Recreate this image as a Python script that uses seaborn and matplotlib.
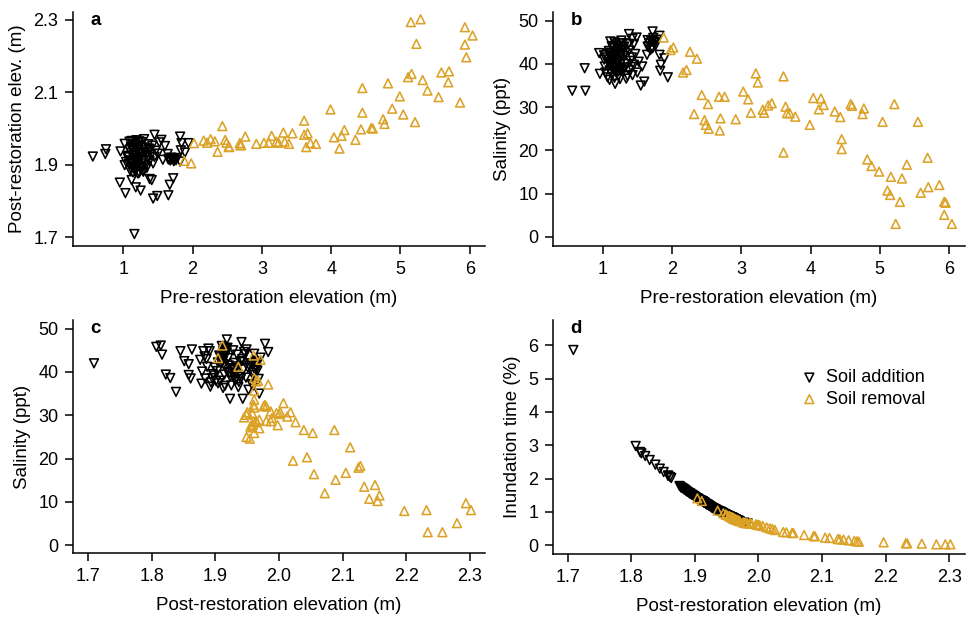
import matplotlib
matplotlib.use("Agg")
import matplotlib.pyplot as plt
import numpy as np
import pandas as pd
import seaborn as sns

# soil addition sites (black, down triangles)
pre_add = [1.16, 1.43, 1.49, 1.65, 1.03, 1.25, 1.18, 1.67, 0.95, 1.12, 1.41, 1.38, 1.72,
           0.56, 0.75, 0.74, 0.96, 1.02, 1.45, 1.23, 1.55, 1.60, 1.82, 1.84, 1.94, 1.89,
           1.82, 1.72, 1.65, 1.57, 1.43, 1.29, 1.26, 1.10, 1.38, 1.83, 1.64,
           1.06, 1.08, 1.09, 1.10, 1.11, 1.12, 1.13, 1.13, 1.14, 1.15, 1.15, 1.16, 1.17,
           1.17, 1.18, 1.19, 1.19, 1.20, 1.20, 1.21, 1.22, 1.22, 1.23, 1.24, 1.24, 1.25,
           1.26, 1.27, 1.28, 1.29, 1.30, 1.31, 1.32, 1.33, 1.35, 1.36, 1.38, 1.40, 1.42,
           1.45, 1.47, 1.50, 1.52, 1.07, 1.11, 1.16, 1.21, 1.26, 1.14, 1.18, 1.23, 1.04,
           1.02, 1.09, 1.27, 1.34, 1.37, 1.12, 1.19, 1.30,
           1.66, 1.68, 1.70, 1.72, 1.74, 1.76, 1.78, 1.69, 1.73]
post_add = [1.709, 1.807, 1.814, 1.816, 1.822, 1.829, 1.838, 1.845, 1.851, 1.858, 1.858, 1.861, 1.863,
            1.923, 1.943, 1.930, 1.937, 1.958, 1.983, 1.965, 1.969, 1.952, 1.978, 1.960, 1.960, 1.934,
            1.909, 1.918, 1.915, 1.914, 1.904, 1.881, 1.895, 1.912, 1.941, 1.940, 1.930,
            1.921, 1.903, 1.942, 1.884, 1.933, 1.912, 1.947, 1.893, 1.926, 1.906, 1.938, 1.887, 1.928,
            1.915, 1.955, 1.896, 1.918, 1.944, 1.901, 1.876, 1.932, 1.909, 1.951, 1.891, 1.923, 1.936,
            1.904, 1.929, 1.883, 1.948, 1.913, 1.934, 1.898, 1.941, 1.919, 1.957, 1.911, 1.927, 1.953,
            1.922, 1.939, 1.931, 1.962, 1.925, 1.949, 1.959, 1.961, 1.963, 1.879, 1.886, 1.878, 1.908,
            1.899, 1.964, 1.889, 1.892, 1.945, 1.966, 1.968, 1.971,
            1.915, 1.912, 1.918, 1.914, 1.916, 1.913, 1.919, 1.920, 1.910]
sal_add = [42.0, 45.8, 46.1, 44.0, 39.4, 38.6, 35.4, 44.8, 42.5, 41.8, 39.3, 38.5, 45.2,
           33.8, 33.8, 39.0, 37.7, 42.0, 44.6, 40.8, 35.0, 35.9, 46.5, 39.8, 36.9, 41.3,
           42.1, 47.5, 45.5, 39.4, 37.4, 44.8, 38.6, 36.3, 46.9, 38.4, 42.1,
           41.5, 40.2, 43.0, 38.5, 39.8, 42.6, 44.1, 37.6, 40.9, 43.8, 38.9, 41.2, 45.0,
           36.8, 42.0, 39.5, 44.5, 40.6, 37.9, 42.8, 38.2, 43.4, 41.0, 44.8, 39.0, 36.5,
           42.2, 40.4, 43.6, 38.7, 41.8, 44.0, 39.2, 42.5, 40.0, 37.2, 43.1, 40.7, 41.5,
           39.8, 42.3, 38.0, 40.5, 36.9, 45.2, 39.3, 44.2, 41.4, 40.1, 43.0, 37.3, 38.0,
           41.0, 42.4, 45.4, 36.6, 44.6, 40.3, 38.4, 43.3,
           44.0, 44.8, 45.3, 43.6, 45.0, 44.2, 45.6, 43.2, 46.0]
inund_add = [5.86, 2.98, 2.80, 2.76, 2.68, 2.56, 2.42, 2.30, 2.20, 2.09, 2.09, 2.05, 2.02,
             1.18, 0.98, 1.10, 1.03, 0.84, 0.66, 0.77, 0.74, 0.89, 0.68, 0.82, 0.82, 1.06,
             1.35, 1.24, 1.28, 1.29, 1.41, 1.71, 1.52, 1.32, 1.00, 1.01, 1.10,
             1.21, 1.42, 0.99, 1.67, 1.07, 1.32, 0.94, 1.55, 1.14, 1.39, 1.02, 1.62, 1.12,
             1.28, 0.87, 1.51, 1.24, 0.97, 1.45, 1.78, 1.08, 1.35, 0.90, 1.57, 1.18, 1.04,
             1.41, 1.11, 1.68, 0.93, 1.31, 1.06, 1.49, 1.00, 1.23, 0.85, 1.33, 1.13, 0.88,
             1.20, 1.01, 1.09, 0.80, 1.16, 0.92, 0.83, 0.81, 0.79, 1.73, 1.64, 1.74, 1.36,
             1.47, 0.78, 1.60, 1.56, 0.96, 0.76, 0.75, 0.72,
             1.28, 1.32, 1.24, 1.29, 1.27, 1.31, 1.23, 1.22, 1.34]

# soil removal sites (orange, up triangles)
pre_rem = [1.88, 1.98, 2.02, 2.16, 2.21, 2.26, 2.32, 2.36, 2.43, 2.47, 2.49, 2.52, 2.53,
           2.68, 2.69, 2.70, 2.76, 2.92, 3.03, 3.10, 3.14, 3.21, 3.24, 3.31, 3.33, 3.39,
           3.44, 3.61, 3.61, 3.64, 3.66, 3.70, 3.78, 3.99, 4.04, 4.12, 4.15, 4.19, 4.35,
           4.43, 4.45, 4.45, 4.58, 4.60, 4.75, 4.77, 4.82, 4.88, 4.99, 5.04, 5.11, 5.16,
           5.15, 5.21, 5.23, 5.29, 5.32, 5.39, 5.55, 5.59, 5.70, 5.69, 5.86, 5.93, 5.93,
           5.95, 6.04]
post_rem = [1.911, 1.904, 1.960, 1.967, 1.961, 1.971, 1.965, 1.936, 2.007, 1.969, 1.961, 1.950, 1.949,
            1.960, 1.954, 1.955, 1.978, 1.958, 1.961, 1.961, 1.980, 1.964, 1.961, 1.989, 1.964, 1.958,
            1.987, 2.022, 1.983, 1.949, 1.987, 1.960, 1.958, 2.053, 1.976, 1.945, 1.980, 1.996, 1.969,
            1.998, 2.112, 2.044, 2.002, 2.000, 2.026, 2.013, 2.125, 2.055, 2.089, 2.039, 2.142, 2.151,
            2.294, 2.018, 2.234, 2.302, 2.134, 2.105, 2.087, 2.155, 2.158, 2.128, 2.072, 2.280, 2.232,
            2.197, 2.257]
sal_rem = [46.1, 43.2, 43.8, 38.0, 38.6, 42.8, 28.4, 41.2, 32.8, 27.0, 25.9, 30.7, 25.0,
           32.4, 24.6, 27.4, 32.4, 27.2, 33.6, 31.8, 28.7, 37.8, 35.7, 29.4, 28.7, 30.4,
           30.9, 19.5, 37.1, 30.1, 28.6, 28.6, 27.8, 25.9, 32.1, 29.5, 32.0, 30.5, 29.0,
           27.7, 22.6, 20.3, 30.7, 30.3, 28.4, 29.7, 17.9, 16.4, 15.1, 26.6, 10.7, 13.9,
           9.7, 30.7, 3.0, 8.1, 13.5, 16.7, 26.6, 10.2, 11.5, 18.3, 12.0, 5.1, 8.1,
           7.9, 3.0]
inund_rem = [1.33, 1.41, 0.82, 0.76, 0.81, 0.72, 0.77, 1.04, 0.58, 0.74, 0.81, 0.91, 0.92,
             0.82, 0.88, 0.87, 0.68, 0.84, 0.81, 0.81, 0.67, 0.78, 0.81, 0.65, 0.78, 0.84,
             0.66, 0.49, 0.66, 0.92, 0.66, 0.82, 0.84, 0.37, 0.69, 0.96, 0.67, 0.63, 0.74,
             0.62, 0.22, 0.39, 0.60, 0.61, 0.46, 0.54, 0.19, 0.37, 0.27, 0.40, 0.15, 0.13,
             0.03, 0.51, 0.06, 0.03, 0.17, 0.23, 0.28, 0.12, 0.11, 0.18, 0.31, 0.03, 0.06,
             0.09, 0.05]

add = pd.DataFrame({"pre": pre_add, "post": post_add, "sal": sal_add, "inund": inund_add})
rem = pd.DataFrame({"pre": pre_rem, "post": post_rem, "sal": sal_rem, "inund": inund_rem})

black = "#000000"
orange = "#DCA227"

sns.set_theme(style="ticks")
plt.rcParams["font.family"] = ["Liberation Sans", "DejaVu Sans"]
plt.rcParams["font.size"] = 13
plt.rcParams["text.color"] = "black"
plt.rcParams["axes.labelcolor"] = "black"
plt.rcParams["axes.edgecolor"] = "black"
plt.rcParams["xtick.color"] = "black"
plt.rcParams["ytick.color"] = "black"
plt.rcParams["axes.linewidth"] = 1.1
plt.rcParams["xtick.major.size"] = 5.5
plt.rcParams["ytick.major.size"] = 5.5
plt.rcParams["xtick.major.width"] = 1.1
plt.rcParams["ytick.major.width"] = 1.1

fig = plt.figure(figsize=(9.72, 6.19), dpi=100)
W, H = 972, 619


def make_ax(left, top, right, bottom):
    return fig.add_axes([left / W, 1 - bottom / H, (right - left) / W, (bottom - top) / H])


ax_a = make_ax(73, 12, 485, 246)
ax_b = make_ax(553, 12, 965, 246)
ax_c = make_ax(73, 320, 485, 553)
ax_d = make_ax(553, 320, 965, 554)

panels = [
    (ax_a, "pre", "post", "Pre-restoration elevation (m)", "Post-restoration elev. (m)", "a"),
    (ax_b, "pre", "sal", "Pre-restoration elevation (m)", "Salinity (ppt)", "b"),
    (ax_c, "post", "sal", "Post-restoration elevation (m)", "Salinity (ppt)", "c"),
    (ax_d, "post", "inund", "Post-restoration elevation (m)", "Inundation time (%)", "d"),
]

for ax, xcol, ycol, xlabel, ylabel, letter in panels:
    sns.scatterplot(data=add, x=xcol, y=ycol, ax=ax, marker="v", s=40,
                    facecolor="none", edgecolor=black, linewidth=1.15, label="Soil addition")
    sns.scatterplot(data=rem, x=xcol, y=ycol, ax=ax, marker="^", s=40,
                    facecolor="none", edgecolor=orange, linewidth=1.15, label="Soil removal")
    ax.set_xlabel(xlabel, fontsize=13.5, labelpad=9)
    ax.set_ylabel(ylabel, fontsize=13.5, labelpad=5)
    ax.tick_params(labelsize=13, direction="out", pad=5)
    ax.text(0.043, 0.965, letter, transform=ax.transAxes, fontsize=13.5,
            fontweight="bold", ha="left", va="center")
    sns.despine(ax=ax)
    if ax is not ax_d:
        ax.get_legend().remove()

ax_a.set_xlim(0.274, 6.22)
ax_a.set_ylim(1.676, 2.322)
ax_a.set_xticks([1, 2, 3, 4, 5, 6])
ax_a.set_yticks([1.7, 1.9, 2.1, 2.3])
ax_a.set_yticklabels(["1.7", "1.9", "2.1", "2.3"])

ax_b.set_xlim(0.283, 6.23)
ax_b.set_ylim(-2.1, 52)
ax_b.set_xticks([1, 2, 3, 4, 5, 6])
ax_b.set_yticks([0, 10, 20, 30, 40, 50])

elev_ticks = [1.7, 1.8, 1.9, 2.0, 2.1, 2.2, 2.3]
elev_labels = ["1.7", "1.8", "1.9", "2.0", "2.1", "2.2", "2.3"]
ax_c.set_xlim(1.676, 2.324)
ax_c.set_ylim(-1.8, 52)
ax_c.set_xticks(elev_ticks)
ax_c.set_xticklabels(elev_labels)
ax_c.set_yticks([0, 10, 20, 30, 40, 50])

ax_d.set_xlim(1.677, 2.325)
ax_d.set_ylim(-0.26, 6.76)
ax_d.set_xticks(elev_ticks)
ax_d.set_xticklabels(elev_labels)
ax_d.set_yticks([0, 1, 2, 3, 4, 5, 6])
ax_d.legend(loc="upper left", bbox_to_anchor=(0.585, 0.82), frameon=False,
            fontsize=13, handlelength=0.9, handletextpad=0.45, labelspacing=0.25,
            borderaxespad=0, markerscale=1.0)

fig.savefig("out.png", dpi=100)
